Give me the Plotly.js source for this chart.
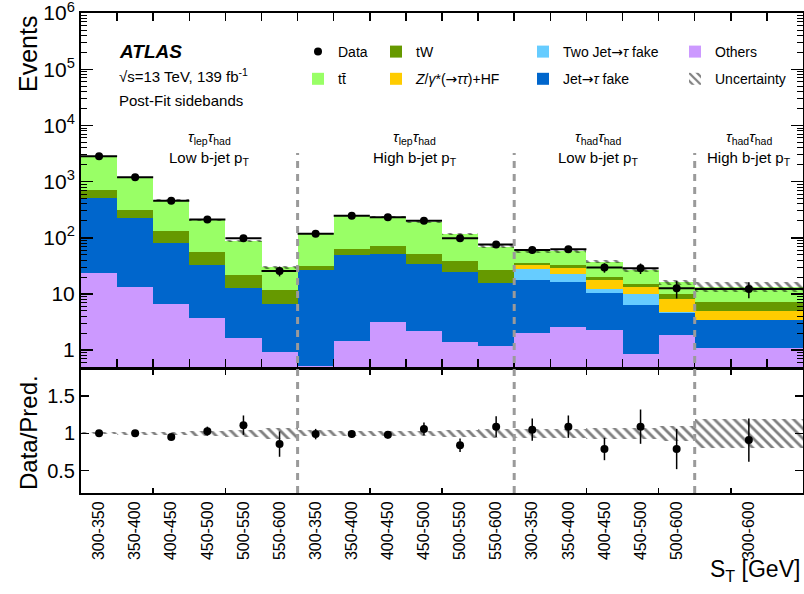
<!DOCTYPE html>
<html><head><meta charset="utf-8">
<script src="https://cdn.plot.ly/plotly-3.0.1.min.js"></script>
<style>html,body{margin:0;padding:0;background:#fff}</style>
</head><body>
<div id="chart" style="width:804px;height:594px"></div>
<script>
// ---- data ----
const binLabels = ['300-350','350-400','400-450','450-500','500-550','550-600',
                   '300-350','350-400','400-450','450-500','500-550','550-600',
                   '300-350','350-400','400-450','450-500','500-600',
                   '300-600'];
const binSlots = [1,1,1,1,1,1, 1,1,1,1,1,1, 1,1,1,1,1, 3];
const regionSizes = [6,6,5,1];
const others     = [23.5,13.1,6.7,3.7,1.67,0.93, 0.52,1.46,3.12,2.16,1.4,1.18, 2.0,2.6,2.25,0.85,1.84, 1.07];
const jetFake    = [497,209,74.6,29.2,11.0,5.6, 26.3,47.8,48.3,32.0,23.3,14.8, 15.7,13.4,8.0,5.6,2.8, 2.31];
const twoJetFake = [0,0,0,0,0,0, 0,0,0,0,0,0, 9.9,6.5,1.9,3.5,0.05, 0];
const zHF        = [0,0,0,0,0,0, 0,0,0,0,0,0, 5.3,7.0,5.5,3.6,3.3, 1.62];
const tW         = [191,94,49.7,22.8,9.2,5.4, 4.4,13.7,18.6,17.2,14,10.8, 3.2,3.4,2.5,1.4,1.8, 2.3];
const ttbar      = [2154,889,342,151,66,18, 88,187,168,139,78,43, 21.4,24.1,17.3,11.3,6.3, 6.2];
const dataCounts = [2840,1200,455,212,98,25.6, 118,247,233,201,98,76, 60.4,62.5,29.5,28.7,12.6,12.3];
const ratio      = [1.00,1.00,0.95,1.03,1.11,0.856, 0.99,0.99,0.98,1.06,0.84,1.09, 1.05,1.09,0.79,1.09,0.79,0.91];
const ratioErr   = [0.02,0.03,0.04,0.06,0.13,0.17, 0.07,0.05,0.05,0.085,0.09,0.14, 0.15,0.15,0.15,0.23,0.27,0.29];
const uncFrac    = [0.015,0.02,0.025,0.035,0.05,0.07, 0.04,0.03,0.03,0.035,0.05,0.06, 0.06,0.06,0.07,0.07,0.1, 0.19];
const yTickVals  = [1,10,100,1000,10000,100000,1000000];
const yTickText  = ['1','10','10<sup>2</sup>','10<sup>3</sup>','10<sup>4</sup>','10<sup>5</sup>','10<sup>6</sup>'];

// ---- derived geometry (bin index space) ----
const edges = [0];
binSlots.forEach(s => edges.push(edges[edges.length-1] + s));
const centers = binSlots.map((s,i) => edges[i] + s/2);
const halfW = binSlots.map(s => s/2);
const nSlots = edges[edges.length-1];
const total = others.map((v,i) => v + jetFake[i] + twoJetFake[i] + zHF[i] + tW[i] + ttbar[i]);
const dataErr = dataCounts.map((d,i) => d * ratioErr[i] / ratio[i]);
const regionEdges = [];
{ let k = 0; regionSizes.forEach(n => { k += n; regionEdges.push(edges[k]); }); }

const FONT = 'Liberation Sans, Arial, Helvetica, sans-serif';
const ARROW = '<span style="font-family:DejaVu Sans">\u2192</span>';
const hatch = {shape:'\\', fgcolor:'black', bgcolor:'rgba(0,0,0,0)', size:7, solidity:0.4, fillmode:'overlay'};

function stackBar(name, y, color, legend, rank) {
  return {type:'bar', name:name, x:centers, y:y, width:binSlots,
          marker:{color:color, line:{width:0}}, legend:legend, legendrank:rank,
          legendgroup:name, xaxis:'x', yaxis:'y', hoverinfo:'skip'};
}

const traces = [
  stackBar('Others', others, '#cc99ff', 'legend4', 1),
  stackBar('Jet' + ARROW + '<i>\u03c4</i> fake', jetFake, '#0066cc', 'legend3', 2),
  stackBar('Two Jet' + ARROW + '<i>\u03c4</i> fake', twoJetFake, '#66ccff', 'legend3', 1),
  stackBar('<i>Z</i>/<i>\u03b3</i>*(' + ARROW + '<i>\u03c4\u03c4</i>)+HF', zHF, '#ffcc00', 'legend2', 2),
  stackBar('tW', tW, '#669900', 'legend2', 1),
  stackBar('t\u0074\u0304', ttbar, '#99ff66', 'legend', 2),
  {type:'bar', name:'Uncertainty', x:centers, width:binSlots,
   base: total.map((t,i) => t*(1-uncFrac[i])), y: total.map((t,i) => 2*t*uncFrac[i]),
   marker:{color:'rgba(0,0,0,0)', line:{width:0}, pattern:hatch},
   legend:'legend4', legendrank:2, legendgroup:'unc', xaxis:'x', yaxis:'y', hoverinfo:'skip'},
  {type:'scatter', mode:'markers', name:'Data', x:centers, y:dataCounts,
   marker:{color:'black', size:8},
   error_x:{type:'data', array:halfW, color:'black', thickness:2, width:0},
   error_y:{type:'data', array:dataErr, color:'black', thickness:1.5, width:0},
   legend:'legend', legendrank:1, legendgroup:'data', xaxis:'x', yaxis:'y', hoverinfo:'skip'},
  {type:'bar', name:'unc ratio', x:centers, width:binSlots,
   base: uncFrac.map(u => 1-u), y: uncFrac.map(u => 2*u),
   marker:{color:'rgba(0,0,0,0)', line:{width:0}, pattern:hatch},
   showlegend:false, xaxis:'x2', yaxis:'y2', hoverinfo:'skip'},
  {type:'scatter', mode:'markers', name:'ratio', x:centers, y:ratio,
   marker:{color:'black', size:8},
   error_y:{type:'data', array:ratioErr, color:'black', thickness:1.5, width:0},
   showlegend:false, xaxis:'x2', yaxis:'y2', hoverinfo:'skip'}
];

const plotTop = 13, plotBot = 493, H = 594;
const ph = plotBot - plotTop;
const py = p => (plotBot - p) / ph;   // pixel -> paper y
const px = p => (p - 81) / 722;       // pixel -> paper x

const axLine = {showline:true, linewidth:2, linecolor:'black', mirror:'ticks',
                showgrid:false, zeroline:false, tickcolor:'black', ticklabeloverflow:'allow'};

const minorLog = [];
for (let e = 0; e < 6; e++) for (let m = 2; m <= 9; m++) minorLog.push(m*Math.pow(10,e));
minorLog.unshift(0.6,0.7,0.8,0.9);

const legBase = {orientation:'v', bgcolor:'rgba(0,0,0,0)', borderwidth:0,
                 font:{family:FONT, size:14, color:'black'}, tracegroupgap:6,
                 xanchor:'left', yanchor:'top', itemwidth:30, itemclick:false};

const region1 = '<i>\u03c4</i><sub>lep</sub><i>\u03c4</i><sub>had</sub>';
const region2 = '<i>\u03c4</i><sub>had</sub><i>\u03c4</i><sub>had</sub>';
const regionTxt = [[region1,'Low b-jet p<sub>T</sub>',3.55],[region1,'High b-jet p<sub>T</sub>',9.25],
                   [region2,'Low b-jet p<sub>T</sub>',14.32],[region2,'High b-jet p<sub>T</sub>',18.5]];

const annotations = [
  {text:'<b><i>ATLAS</i></b>', xref:'paper', yref:'paper', x:px(117), y:py(51), xanchor:'left', yanchor:'middle', showarrow:false, font:{family:FONT, size:19}},
  {text:'\u221as=13 TeV, 139 fb<sup>-1</sup>', xref:'paper', yref:'paper', x:px(117), y:py(75), xanchor:'left', yanchor:'middle', showarrow:false, font:{family:FONT, size:15}},
  {text:'Post-Fit sidebands', xref:'paper', yref:'paper', x:px(117), y:py(100), xanchor:'left', yanchor:'middle', showarrow:false, font:{family:FONT, size:15}},
  {text:'Events', xref:'paper', yref:'paper', x:px(28), y:py(14), xanchor:'center', yanchor:'top', textangle:-90, showarrow:false, font:{family:FONT, size:25}},
  {text:'Data/Pred.', xref:'paper', yref:'paper', x:px(28), y:py(432), xanchor:'center', yanchor:'middle', textangle:-90, showarrow:false, font:{family:FONT, size:24}},
  {text:'S<sub>T</sub> [GeV]', xref:'paper', yref:'paper', x:px(802), y:py(570), xanchor:'right', yanchor:'middle', showarrow:false, font:{family:FONT, size:23}}
];
regionTxt.forEach(r => {
  annotations.push({text:r[0], xref:'x', yref:'paper', x:r[2], y:py(137), xanchor:'center', yanchor:'middle', showarrow:false, font:{family:FONT, size:15}});
  annotations.push({text:r[1], xref:'x', yref:'paper', x:r[2], y:py(158), xanchor:'center', yanchor:'middle', showarrow:false, font:{family:FONT, size:15}});
});

const shapes = regionEdges.slice(0, -1).map(xe => ({
  type:'line', xref:'x', yref:'paper', x0:xe, x1:xe, y0:0, y1:py(153),
  line:{color:'#9a9a9a', width:3, dash:'7px,6px'}
}));

const evenTicks = [];
for (let v = 2; v < nSlots; v += 2) evenTicks.push(v);

const layout = {
  width:804, height:594, margin:{l:81, r:1, t:plotTop, b:H-plotBot},
  paper_bgcolor:'white', plot_bgcolor:'white',
  barmode:'stack', bargap:0,
  font:{family:FONT, color:'black'},
  showlegend:true,
  xaxis:Object.assign({domain:[0,1], range:[0,nSlots], anchor:'y', showticklabels:false,
         ticks:'inside', tickmode:'linear', tick0:0, dtick:1, ticklen:8, tickwidth:1.5}, axLine),
  yaxis:Object.assign({domain:[py(367),1], type:'log', range:[Math.log10(0.5), 6.002], anchor:'x',
         tickmode:'array', tickvals:yTickVals, ticktext:yTickText, ticks:'inside', ticklen:12, tickwidth:1.5,
         tickfont:{family:FONT, size:21},
         minor:{tickmode:'array', tickvals:minorLog, ticks:'inside', ticklen:6, tickwidth:1, tickcolor:'black'}}, axLine),
  xaxis2:Object.assign({domain:[0,1], range:[0,nSlots], anchor:'y2',
         tickmode:'array', tickvals:centers, ticktext:binLabels, ticks:'', tickangle:-90,
         tickfont:{family:FONT, size:16},
         minor:{tickmode:'array', tickvals:evenTicks, ticks:'inside', ticklen:5, tickwidth:1.5, tickcolor:'black'}}, axLine),
  yaxis2:Object.assign({domain:[0,py(370)], range:[0.2,1.85], anchor:'x2',
         tickmode:'array', tickvals:[0.5,1,1.5], ticktext:['0.5','1','1.5'], ticks:'inside', ticklen:8, tickwidth:1.5,
         tickfont:{family:FONT, size:20}}, axLine),
  legend: Object.assign({x:px(298), y:py(36)}, legBase),
  legend2:Object.assign({x:px(376), y:py(36)}, legBase),
  legend3:Object.assign({x:px(523), y:py(36)}, legBase),
  legend4:Object.assign({x:px(675), y:py(36)}, legBase),
  annotations:annotations,
  shapes:shapes
};

Plotly.newPlot('chart', traces, layout, {staticPlot:true, displayModeBar:false});
</script>
</body></html>
